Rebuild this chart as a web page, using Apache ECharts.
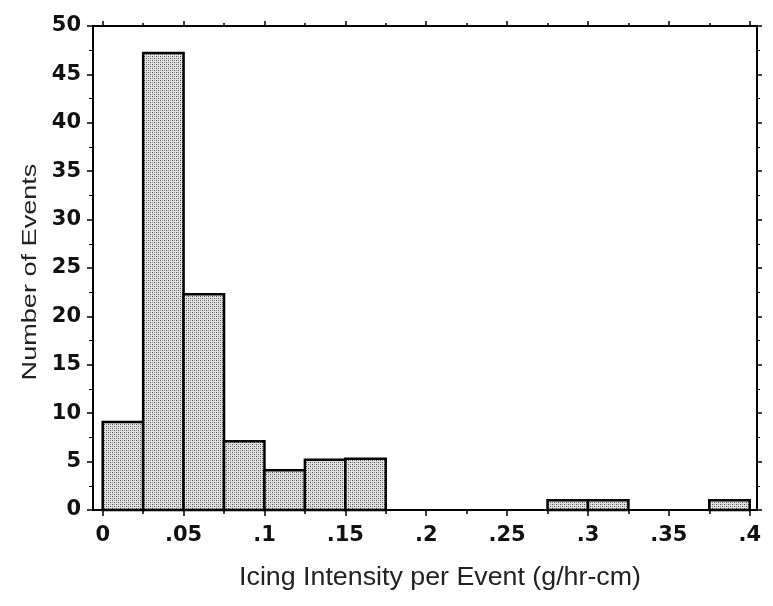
<!DOCTYPE html>
<html>
<head>
<meta charset="utf-8">
<script src="https://cdn.jsdelivr.net/npm/echarts@6/dist/echarts.min.js"></script>
<style>html,body{margin:0;padding:0;background:#fff;}#c{width:773px;height:606px;}</style>
</head>
<body>
<div id="c"></div>
<script>
// Histogram bins (left edges, g/hr-cm) and counts
var binStarts = [0, 0.025, 0.05, 0.075, 0.1, 0.125, 0.15, 0.175, 0.2, 0.225, 0.25, 0.275, 0.3, 0.325, 0.35, 0.375];
var counts    = [9.1, 47.2, 22.3, 7.1, 4.1, 5.2, 5.3, 0, 0, 0, 0, 1, 1, 0, 0, 1];
var binWidth = 0.025;
var xMajorTicks = [0, 0.05, 0.1, 0.15, 0.2, 0.25, 0.3, 0.35, 0.4];
var xMinorTicks = [0.025, 0.075, 0.125, 0.175, 0.225, 0.275, 0.325, 0.375];
var xTickLabels = ['0', '.05', '.1', '.15', '.2', '.25', '.3', '.35', '.4'];
var yTickLabels = ['0', '5', '10', '15', '20', '25', '30', '35', '40', '45', '50'];
var xTitle = 'Icing Intensity per Event (g/hr-cm)';
var yTitle = 'Number of Events';

// stipple pattern
var pc = document.createElement('canvas');
pc.width = 4; pc.height = 4;
var g = pc.getContext('2d');
g.fillStyle = '#e2e2e2'; g.fillRect(0, 0, 4, 4);
g.fillStyle = '#4a4a4a';
g.fillRect(0, 0, 1, 1); g.fillRect(2, 2, 1, 1);
g.fillStyle = '#999999';
g.fillRect(2, 0, 1, 1); g.fillRect(0, 2, 1, 1);

var data = binStarts.map(function (s, i) { return [s, s + binWidth, counts[i]]; });

var X_MIN = -0.006, X_MAX = 0.4045;
var chart = echarts.init(document.getElementById('c'), null, {renderer: 'canvas'});
var tickFont = {fontFamily: 'DejaVu Sans', fontWeight: 'bold', fontSize: 21, color: '#111'};
var lineStyle = {color: '#000', width: 2};
function xAx(pos, major, showLine, len) {
  var vals = major ? xMajorTicks : xMinorTicks;
  var ax = {
    type: 'value', min: X_MIN, max: X_MAX, position: pos,
    axisLine: {show: showLine, onZero: false, lineStyle: lineStyle},
    axisTick: {show: true, length: len, customValues: vals, lineStyle: {color: '#000', width: 1.5}},
    splitLine: {show: false},
    axisLabel: {show: false}
  };
  if (major && pos === 'bottom') {
    ax.axisLabel = Object.assign({show: true, margin: 15, customValues: xMajorTicks, formatter: function (v) {
      var idx = Math.round(v / 0.05); return xTickLabels[idx] !== undefined ? xTickLabels[idx] : '';
    }}, tickFont);
  }
  return ax;
}
chart.setOption({
  animation: false,
  backgroundColor: '#fff',
  grid: {left: 93, right: 16, top: 26, bottom: 96},
  xAxis: [xAx('bottom', true, true, 6), xAx('top', true, true, 5), xAx('bottom', false, false, 4), xAx('top', false, false, 3)],
  yAxis: [{
    type: 'value', min: 0, max: 50, interval: 5, position: 'left',
    axisLine: {show: true, onZero: false, lineStyle: lineStyle},
    axisTick: {show: true, length: 6, lineStyle: {color: '#000', width: 1.5}},
    minorTick: {show: true, splitNumber: 2, length: 4, lineStyle: {color: '#000', width: 1}},
    splitLine: {show: false},
    axisLabel: Object.assign({margin: 12, formatter: function (v) {
      var idx = Math.round(v / 5); return yTickLabels[idx] !== undefined ? yTickLabels[idx] : '';
    }}, tickFont)
  }, {
    type: 'value', min: 0, max: 50, interval: 5, position: 'right',
    axisLine: {show: true, onZero: false, lineStyle: lineStyle},
    axisTick: {show: true, length: 5, lineStyle: {color: '#000', width: 1.5}},
    minorTick: {show: true, splitNumber: 2, length: 3, lineStyle: {color: '#000', width: 1}},
    splitLine: {show: false}, axisLabel: {show: false}
  }],
  graphic: [{
    type: 'text', x: 440, y: 578, scaleX: 1.03,
    style: {text: xTitle, font: '26px "Liberation Sans", Arial', fill: '#222', textAlign: 'center', textVerticalAlign: 'middle'}
  }, {
    type: 'text', x: 30, y: 272, rotation: Math.PI / 2, scaleX: 1.29,
    style: {text: yTitle, font: '21px "Liberation Sans", Arial', fill: '#222', textAlign: 'center', textVerticalAlign: 'middle'}
  }],
  series: [{
    type: 'custom',
    xAxisIndex: 0, yAxisIndex: 0,
    data: data,
    encode: {x: [0, 1], y: 2},
    renderItem: function (params, api) {
      var h = api.value(2);
      if (!h) return null;
      var p0 = api.coord([api.value(0), 0]);
      var p1 = api.coord([api.value(1), h]);
      return {
        type: 'rect',
        shape: {x: p0[0], y: p1[1], width: p1[0] - p0[0], height: p0[1] - p1[1]},
        style: {fill: {image: pc, repeat: 'repeat'}, stroke: '#000', lineWidth: 2.5}
      };
    }
  }]
});
</script>
</body>
</html>
